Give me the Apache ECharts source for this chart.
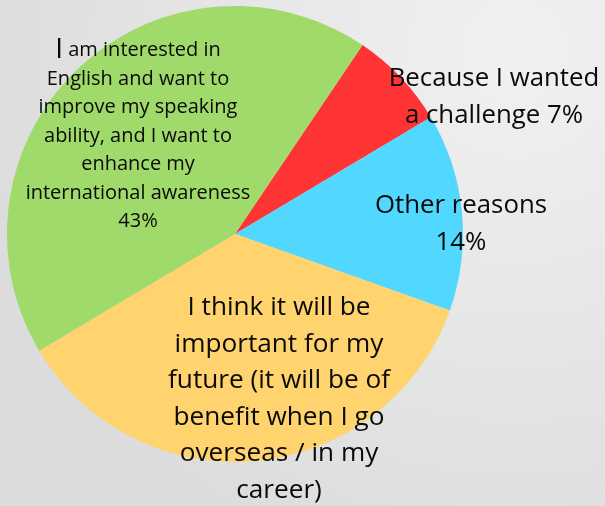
<!DOCTYPE html>
<html><head><meta charset="utf-8">
<script src="https://cdn.jsdelivr.net/npm/echarts@6/dist/echarts.min.js"></script>
<style>html,body{margin:0;padding:0;background:#e8e8e8;}#c{width:605px;height:506px;}</style>
</head><body><div id="c"></div>
<script>
const categories = [
  "Because I wanted a challenge",
  "Other reasons",
  "I think it will be important for my future (it will be of benefit when I go overseas / in my career)",
  "I am interested in English and want to improve my speaking ability, and I want to enhance my international awareness"
];
const values = [7, 14, 36, 43];
const colors = ['#ff3434', '#52d8ff', '#ffd36e', '#a0da6a'];
const labelLines = [
  ["Because I wanted", "a challenge {p}%"],
  ["Other reasons", "{p}%"],
  ["I think it will be", "important for my", "future (it will be of", "benefit when I go", "overseas / in my", "career)"],
  ["{big|I} am interested in", "English and want to", "improve my speaking", "ability, and I want to", "enhance my", "international awareness", "{p}%"]
];
const labelCenters = [[494, 97], [461, 224], [279, 399], [138, 136]];
const labelSizes = [25.8, 25.8, 26.2, 20];
const labelLH = [37, 37, 36.6, 28.5];

const chart = echarts.init(document.getElementById('c'), null, {renderer: 'canvas'});
const data = categories.map((name, i) => ({
  name, value: values[i],
  itemStyle: {color: colors[i]},
  label: {
    fontSize: labelSizes[i], lineHeight: labelLH[i],
    rich: {big: {fontSize: 28, lineHeight: labelLH[i], fontFamily: 'Open Sans', color: '#0a0a0a'}}
  }
}));
chart.setOption({
  backgroundColor: new echarts.graphic.RadialGradient(0.85, 0.1, 1.1, [
    {offset: 0, color: '#f1f1f1'}, {offset: 1, color: '#dcdcdc'}
  ]),
  animation: false,
  series: [{
    type: 'pie',
    center: [235, 234],
    radius: 228,
    startAngle: 56,
    clockwise: true,
    silent: true,
    data,
    label: {
      show: true,
      position: 'inside',
      color: '#0a0a0a',
      fontFamily: 'Open Sans',
      align: 'center',
      formatter: p => labelLines[p.dataIndex].map(l => l.replace('{p}', Math.round(p.percent))).join('\n')
    },
    labelLine: {show: false},
    labelLayout: p => ({
      x: labelCenters[p.dataIndex][0], y: labelCenters[p.dataIndex][1],
      align: 'center', verticalAlign: 'middle'
    })
  }]
});
</script></body></html>
